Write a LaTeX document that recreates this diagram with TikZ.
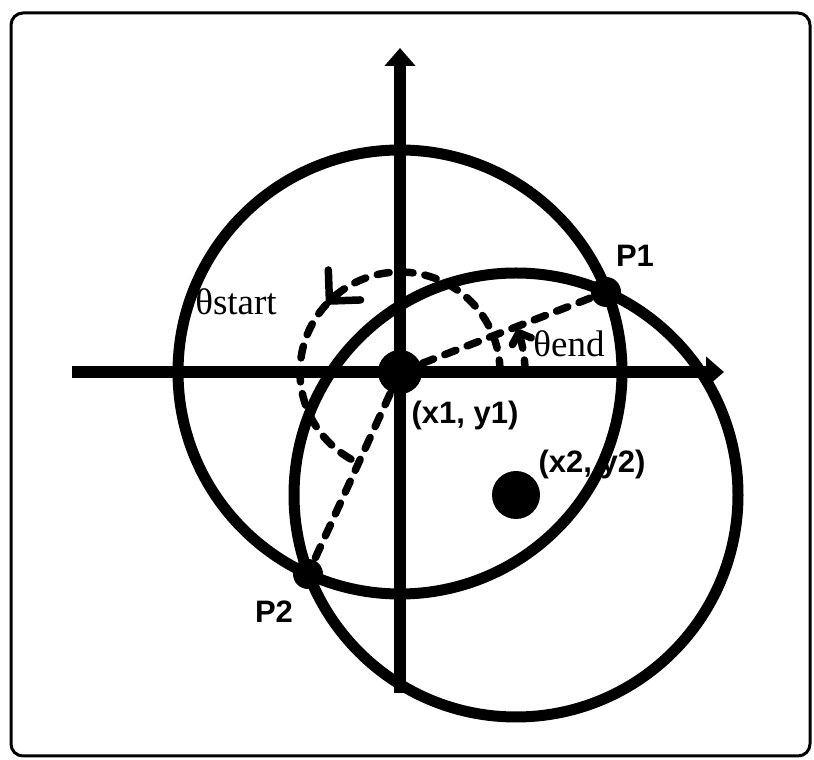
\documentclass[tikz,border=0pt]{standalone}
\usepackage{fontspec}
\setmainfont{Liberation Serif}
\setsansfont{Liberation Sans}
\usetikzlibrary{arrows.meta}

\begin{document}
\begin{tikzpicture}[x=1pt, y=1pt,
    ring/.style={draw, line width=11pt},
    axis/.style={line width=12pt, -{Triangle[length=18pt, width=30pt]}},
    guide/.style={line width=7.5pt, dash pattern=on 12pt off 12pt, line cap=round},
    tip/.style={line width=7.5pt, line cap=round, -{Straight Barb[#1, round]}},
    dot/.style={circle, fill, inner sep=0pt, minimum size=#1},
    lbl/.style={font=\sffamily\bfseries\fontsize{31}{34}\selectfont, inner sep=0pt},
    ang/.style={font=\fontsize{37}{40}\selectfont, inner sep=0pt}]

  \useasboundingbox (0,0) rectangle (814,760);
  \draw[line width=3pt, rounded corners=12pt] (11,4) rectangle (810,747);

  \coordinate (o1) at (400,388);
  \coordinate (o2) at (516,265);
  \coordinate (p1) at (606,468);
  \coordinate (p2) at (308,186);
  \coordinate (xl) at (72,388);
  \coordinate (xr) at (724,388);
  \coordinate (yb) at (400,67);
  \coordinate (yt) at (400,712);

  % circles
  \draw[ring] (o1) circle (222);
  \draw[ring] (o2) circle (222);

  % axes
  \draw[axis] (xl) -- (xr);
  \draw[axis] (yb) -- (yt);

  % radii and angles
  \draw[guide] (o1) -- (p1);
  \draw[guide] (o1) -- (p2);
  \draw[guide] ([shift={(0:100)}]o1) arc[start angle=0, end angle=245.5, radius=100];
  \draw[tip={length=22pt, width=44pt}]
    ([shift={(128:100)}]o1) arc[start angle=128, end angle=137, radius=100];
  \draw[guide] ([shift={(0:125)}]o1) arc[start angle=0, end angle=14, radius=125];
  \draw[tip={length=9pt, width=20pt}]
    ([shift={(14:125)}]o1) arc[start angle=14, end angle=20, radius=125];

  % points
  \node[dot=44pt] (c1) at (o1) {};
  \node[dot=48pt] (c2) at (o2) {};
  \node[dot=30pt] (q1) at (p1) {};
  \node[dot=30pt] (q2) at (p2) {};

  % labels
  \node[lbl] (l1) at (635,504) {P1};
  \node[lbl] (l2) at (274,148) {P2};
  \node[lbl] (lc1) at (465,345) {(x1, y1)};
  \node[lbl] (lc2) at (592,296) {(x2, y2)};
  \node[ang] (ts) at (236,458) {θstart};
  \node[ang] (te) at (569,416) {θend};
\end{tikzpicture}
\end{document}
